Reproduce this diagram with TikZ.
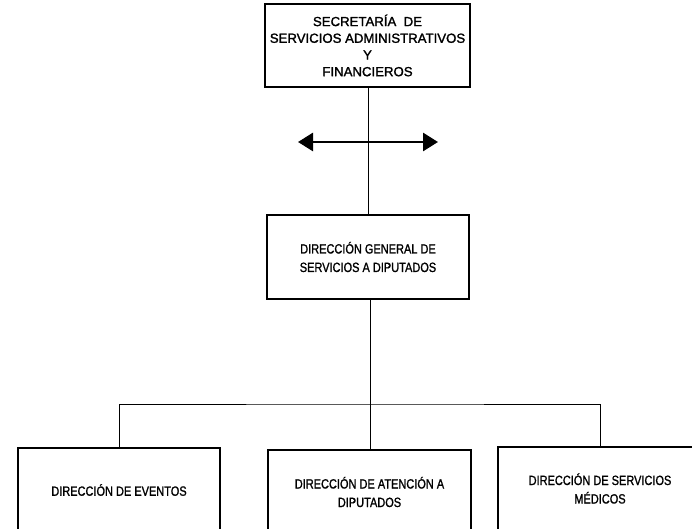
\documentclass[tikz,border=0pt]{standalone}
\usepackage{fontspec}
\setmainfont{Liberation Sans}
\newfontfamily\topfont[FakeBold=1.6]{Liberation Sans}
\newfontfamily\narrowfont[FakeStretch=0.82,FakeBold=1.2]{Liberation Sans}
\usetikzlibrary{arrows.meta}
\tikzset{
  box/.style={draw, line width=1.2pt, inner sep=0pt, align=center},
  topbox/.style={box, font=\topfont\fontsize{13.2}{16.7}\selectfont},
  orgbox/.style={box, font=\narrowfont\fontsize{13.4}{18.5}\selectfont},
  link/.style={line width=1pt},
  bigarrow/.style={line width=2.8pt, {Triangle[length=15pt,width=18pt]}-{Triangle[length=15pt,width=18pt]}}
}
\begin{document}
\begin{tikzpicture}[x=1pt,y=-1pt]
\useasboundingbox (0,0) rectangle (692,529);
\clip (0,0) rectangle (692,529);
\node[topbox, minimum width=205pt, minimum height=83pt] (sec) at (367.5,45.5)
  {SECRETARÍA\ \ DE\\SERVICIOS ADMINISTRATIVOS\\Y\\FINANCIEROS};
\node[orgbox, minimum width=202pt, minimum height=84pt] (dg) at (368,257)
  {DIRECCIÓN GENERAL DE\\SERVICIOS A DIPUTADOS};
\node[orgbox, minimum width=202pt, minimum height=84pt] (ev) at (119,490)
  {DIRECCIÓN DE EVENTOS};
\node[orgbox, minimum width=203pt, minimum height=84pt] (at) at (369.5,492)
  {DIRECCIÓN DE ATENCIÓN A\\DIPUTADOS};
\node[orgbox, minimum width=204pt, minimum height=83pt] (me) at (600,488.5)
  {DIRECCIÓN DE SERVICIOS\\MÉDICOS};
\coordinate (al) at (298,142);
\coordinate (ar) at (438,142);
\coordinate (bus) at (370,404);
\draw[link] (sec.south -| dg.north) -- (dg.north);
\draw[bigarrow] (al) -- (ar);
\draw[link] (dg.south -| bus) -- (bus);
\draw[link] (ev.north) |- (bus) -| (me.north);
\draw[link] (bus) -- (bus |- at.north);
\end{tikzpicture}
\end{document}
